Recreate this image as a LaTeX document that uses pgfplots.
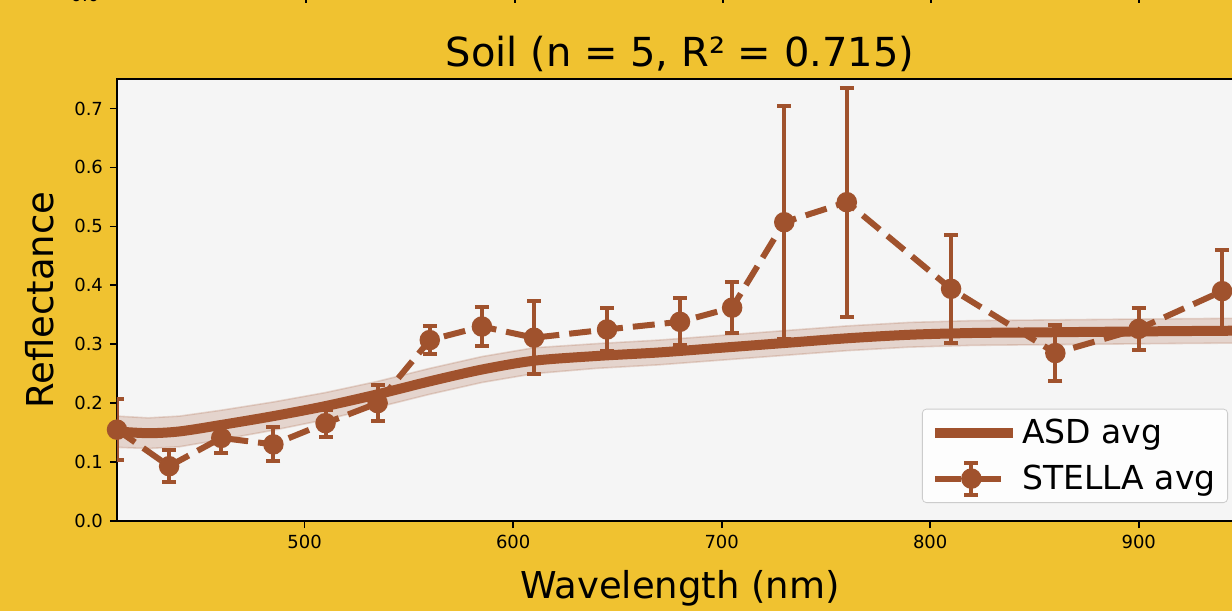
\documentclass[border=0pt]{standalone}
\usepackage{pgfplots}
\pgfplotsset{compat=1.18}
\usepackage{pgfplotstable}
\usepackage{fontspec}
\setmainfont{DejaVu Sans}
\definecolor{bgor}{RGB}{240,194,48}
\definecolor{axbg}{RGB}{245,245,245}
\definecolor{sienna}{RGB}{160,82,45}

\pgfplotstableread{
wl   m
410  0.152
425  0.149
440  0.152
460  0.163
485  0.178
510  0.195
535  0.215
560  0.237
585  0.257
610  0.272
640  0.280
670  0.286
700  0.294
730  0.302
760  0.310
790  0.316
820  0.319
850  0.320
880  0.321
910  0.322
950  0.323
}\asd

% ASD spread band: upper edge left to right, then lower edge right to left
\pgfplotstableread{
wl   v
410  0.178
425  0.175
440  0.178
460  0.188
485  0.202
510  0.218
535  0.237
560  0.259
585  0.279
610  0.294
640  0.301
670  0.307
700  0.315
730  0.323
760  0.331
790  0.337
820  0.340
850  0.341
880  0.342
910  0.343
950  0.344
950  0.302
910  0.301
880  0.300
850  0.299
820  0.298
790  0.295
760  0.289
730  0.281
700  0.273
670  0.265
640  0.259
610  0.250
585  0.235
560  0.215
535  0.193
510  0.172
485  0.154
460  0.138
440  0.126
425  0.123
410  0.125
}\band

\pgfplotstableread{
wl   r      e
410  0.155  0.052
435  0.093  0.027
460  0.141  0.026
485  0.130  0.029
510  0.166  0.023
535  0.200  0.030
560  0.307  0.024
585  0.330  0.033
610  0.311  0.062
645  0.325  0.036
680  0.338  0.040
705  0.362  0.043
730  0.507  0.198
760  0.541  0.194
810  0.394  0.092
860  0.285  0.048
900  0.326  0.036
940  0.390  0.070
}\stella

\begin{document}
\begin{tikzpicture}
\fill[bgor] (-58.5pt,-45pt) rectangle (557.5pt,260.5pt);
\foreach \px in {306,515,723,931,1139} {
  \draw[black, line width=0.8pt] ({(\px-117)*0.5pt},260.5pt) -- ({(\px-117)*0.5pt},259pt);
}
\node[anchor=base, font=\fontsize{9}{10}\selectfont, inner sep=0pt] at (-16pt,259.6pt) {0.0};
\begin{axis}[
  at={(0pt,0pt)}, anchor=south west,
  scale only axis, width=563pt, height=221pt,
  xmin=410, xmax=950, ymin=0, ymax=0.75,
  axis background/.style={fill=axbg},
  axis line style={line width=0.8pt},
  xtick={500,600,700,800,900},
  ytick={0,0.1,0.2,0.3,0.4,0.5,0.6,0.7},
  yticklabel style={/pgf/number format/.cd, fixed, fixed zerofill, precision=1},
  /pgf/number format/assume math mode=true,
  tick align=outside, tick pos=left,
  major tick length=3.5pt,
  tick style={black, line width=0.8pt},
  tick label style={font=\fontsize{9}{10}\selectfont},
  legend cell align=left,
  legend style={at={(rel axis cs:1,0)}, anchor=south east,
    xshift=-7.5pt, yshift=9pt,
    font=\fontsize{16.5}{19}\selectfont,
    fill=white, fill opacity=0.85, text opacity=1,
    draw=black!20, rounded corners=2pt,
    inner xsep=4pt, inner ysep=3pt,
    row sep=5pt},
]
\addplot[fill=sienna, fill opacity=0.2, draw=sienna, draw opacity=0.2, line width=0.8pt, forget plot]
  table[x=wl, y=v] {\band} -- cycle;
\addplot[sienna, line width=5pt, smooth,
  legend image code/.code={\draw[sienna, line width=5pt, draw opacity=1, fill opacity=1] (0pt,0pt) -- (39pt,0pt);}]
  table[x=wl, y=m] {\asd};
\addlegendentry{ASD avg}
\addplot[sienna, line width=3pt, dash pattern=on 11pt off 5pt,
  mark=*, mark size=3.6pt, mark options={solid, fill=sienna, draw=sienna},
  error bars/.cd, y dir=both, y explicit,
  error bar style={line width=2pt, solid, sienna},
  error mark options={rotate=90, mark size=3.5pt, line width=2pt, solid, sienna},
  /pgfplots/legend image code/.code={
    \begin{scope}[draw opacity=1, fill opacity=1, solid]
    \draw[sienna, line width=3pt] (0pt,0pt) -- (13pt,0pt);
    \draw[sienna, line width=3pt] (23pt,0pt) -- (33pt,0pt);
    \draw[sienna, line width=2pt] (18pt,-8pt) -- (18pt,8pt);
    \draw[sienna, line width=2pt] (14.5pt,-8pt) -- (21.5pt,-8pt);
    \draw[sienna, line width=2pt] (14.5pt,8pt) -- (21.5pt,8pt);
    \fill[sienna] (18pt,0pt) circle (3.6pt);
    \path (39pt,0pt);
    \end{scope}
  }]
  table[x=wl, y=r, y error=e] {\stella};
\addlegendentry{STELLA avg}
\end{axis}
\pgfresetboundingbox
\useasboundingbox (-58.5pt,-45pt) rectangle (557.5pt,260.5pt);
\node[anchor=base, font=\fontsize{20}{24}\selectfont] at (281.5pt,227pt) {Soil (n = 5, R² = 0.715)};
\node[anchor=center, font=\fontsize{18.5}{22}\selectfont] at (281.5pt,-33.5pt) {Wavelength (nm)};
\node[anchor=center, rotate=90, font=\fontsize{18.5}{22}\selectfont] at (-38.5pt,110.5pt) {Reflectance};
\end{tikzpicture}
\end{document}
